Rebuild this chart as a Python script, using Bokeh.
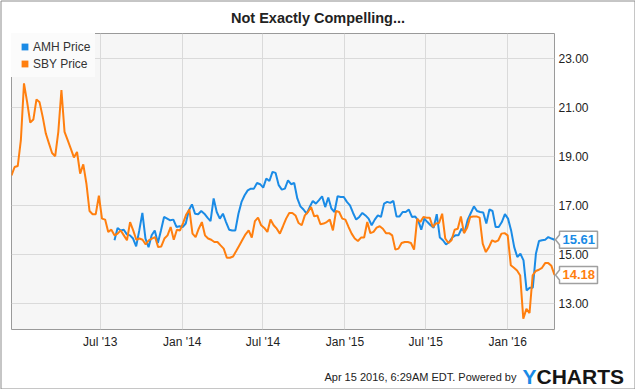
import pandas as pd
from bokeh.plotting import figure
from bokeh.models import (Range1d, FixedTicker, DatetimeTickFormatter, NumeralTickFormatter,
                          Legend, LegendItem)
from bokeh.core.properties import value
from bokeh.embed import file_html
from bokeh.resources import INLINE

# ---------------- data ----------------
title = "Not Exactly Compelling..."
series_names = ["AMH Price", "SBY Price"]
footer_text = "Apr 15 2016, 6:29AM EDT.  Powered by"
logo_parts = ["Y", "CHARTS"]

amh_start, amh_end = "2013-08-02", "2016-04-15"
sby_start, sby_end = "2012-12-14", "2016-04-15"

amh_price = [
    15.59, 16.09, 15.99, 16.02, 15.83, 15.79, 15.66, 15.34, 15.99, 16.70, 15.66, 15.31,
    15.79, 15.99, 15.48, 15.99, 16.54, 16.47, 16.40, 16.43, 16.13, 16.16, 16.13, 16.27,
    16.81, 17.05, 16.67, 16.65, 16.78, 16.67, 16.51, 16.37, 17.29, 16.74, 16.47, 16.67,
    16.33, 16.02, 15.99, 15.99, 16.67, 17.15, 17.42, 17.62, 17.69, 17.69, 17.92, 17.87,
    17.73, 18.10, 18.00, 18.37, 18.33,
    17.83, 17.65, 17.69, 18.03, 17.87, 17.92, 17.29, 16.97, 16.84, 16.67, 16.94, 17.19,
    17.08, 17.22, 17.38, 16.94, 17.33, 16.88, 16.74, 17.38, 17.35, 17.35, 17.15, 17.01,
    16.70, 16.43, 16.54, 16.70, 16.60, 16.47, 16.20, 16.43, 16.60, 16.54, 17.08, 17.15,
    17.11, 17.19, 16.56, 16.56, 16.74, 16.74, 16.84, 16.54, 16.56, 16.40, 16.02, 16.47,
    16.33, 16.20, 16.10, 16.65,
    15.70, 15.59, 15.42, 15.52, 15.70, 15.79, 15.79, 16.06, 15.93, 16.43, 16.70, 16.97,
    16.78, 16.74, 16.72, 16.27, 16.84, 16.78, 16.13, 16.13, 16.33, 16.65, 16.47, 15.99,
    15.31, 14.91, 15.04, 14.77, 13.55, 13.66, 13.66, 15.04, 15.56, 15.59, 15.61, 15.72,
    15.66, 15.61,
]

sby_price = [
    18.23, 18.57, 18.61, 19.66, 21.97, 21.22, 20.38, 20.50, 21.32, 21.20, 20.61, 19.93,
    19.53, 19.14, 19.01, 20.00, 21.70, 20.00, 19.66, 19.32, 18.96, 19.18, 18.30, 18.68,
    17.90, 16.78, 16.65, 16.65, 17.40,
    16.47, 16.43, 15.93, 16.02, 15.79, 15.86, 15.99, 15.79, 15.59, 16.33, 15.99, 15.61,
    15.66, 15.61, 15.42, 15.59, 15.66, 15.72, 15.31, 15.34, 15.66, 15.79, 16.13, 15.61,
    16.02, 15.99,
    16.30, 16.64, 16.84, 15.86, 15.72, 16.06, 16.33, 15.79, 15.66, 15.61, 15.52, 15.52,
    15.38, 15.25, 14.88, 14.88, 14.93, 15.15, 15.38, 15.61, 15.83, 15.99,
    15.70, 16.37, 16.51, 16.20, 16.09, 15.93, 16.43, 16.20, 16.06, 15.86, 16.16, 16.47,
    16.70, 16.70, 16.60, 16.29, 16.20, 16.60, 16.74, 16.94, 16.56, 16.60, 16.24, 16.27,
    16.33, 16.43, 15.99, 16.78, 16.74, 16.47, 16.43,
    16.13, 15.86, 15.66, 15.56, 15.70, 15.70, 16.33, 15.88, 15.93, 16.10, 16.16, 16.06,
    15.88, 15.88, 15.79, 15.21, 15.25, 15.48, 15.52, 15.52, 15.48, 15.21, 16.47, 16.33,
    16.54, 16.51, 16.51,
    16.13, 16.27, 16.29, 16.67, 15.66, 15.48, 15.59, 16.02, 16.06, 16.56, 15.88, 16.10,
    16.54, 16.56, 16.56, 16.51, 15.45, 15.11, 15.31, 15.59, 15.52, 15.59, 15.86, 15.88,
    15.79, 14.57, 14.47, 14.36, 14.16, 12.40, 12.80, 12.63, 14.16, 14.34, 14.39, 14.47,
    14.66, 14.66, 14.55, 14.18,
]

x_ticks = ["2013-07-01", "2014-01-01", "2014-07-01", "2015-01-01", "2015-07-01", "2016-01-01"]
y_ticks = [13, 15, 17, 19, 21, 23]
last_labels = ["15.61", "14.18"]

# ---------------- styling ----------------
BLUE = "#1a8be6"
ORANGE = "#ff7f0f"
FONT = "Liberation Sans"
W, H = 635, 389
BL, BR, BT, BB = 11, 81, 33, 60
FW, FH = W - BL - BR, H - BT - BB
Y_LO, Y_HI = 11.96, 24.0

amh_dates = pd.date_range(amh_start, amh_end, periods=len(amh_price))
sby_dates = pd.date_range(sby_start, sby_end, periods=len(sby_price))
X0 = pd.Timestamp(sby_start).value / 1e6
X1 = pd.Timestamp(sby_end).value / 1e6
MPP = (X1 - X0) / FW          # ms per screen pixel
PPU = FH / (Y_HI - Y_LO)      # screen pixels per price unit


def sx(px):  # frame-relative pixel -> data x
    return X0 + px * MPP


def sy(px):  # frame-relative pixel (from bottom) -> data y
    return Y_LO + px / PPU


p = figure(width=W, height=H, x_axis_type="datetime", y_axis_location="right",
           output_backend="svg", toolbar_location=None,
           x_range=Range1d(pd.Timestamp(sby_start), pd.Timestamp(sby_end)),
           y_range=Range1d(Y_LO, Y_HI),
           min_border_left=BL, min_border_right=BR, min_border_top=BT, min_border_bottom=BB)
p.background_fill_color = "#f6f6f6"
p.border_fill_color = "white"
p.outline_line_color = "#9a9a9a"
p.outline_line_width = 1

tick_ms = [pd.Timestamp(t).value / 1e6 for t in x_ticks]
fmt = "%b '%y"
p.xaxis.ticker = FixedTicker(ticks=tick_ms)
p.xaxis.formatter = DatetimeTickFormatter(microseconds=fmt, milliseconds=fmt, seconds=fmt,
                                          minsec=fmt, minutes=fmt, hourmin=fmt, hours=fmt,
                                          days=fmt, months=fmt, years=fmt)
p.xgrid.ticker = FixedTicker(ticks=tick_ms)
p.yaxis.ticker = FixedTicker(ticks=y_ticks)
p.ygrid.ticker = FixedTicker(ticks=y_ticks)
p.yaxis.formatter = NumeralTickFormatter(format="0.00")
for ax in (p.xaxis[0], p.yaxis[0]):
    ax.axis_line_color = None
    ax.major_tick_line_color = None
    ax.minor_tick_line_color = None
    ax.major_tick_out = 0
    ax.minor_tick_out = 0
    ax.major_label_text_font = FONT
    ax.major_label_text_font_size = "12px"
    ax.major_label_text_color = "#222222"
    ax.major_label_standoff = 5
p.yaxis.major_label_standoff = 4
p.xgrid.grid_line_color = "#dadada"
p.ygrid.grid_line_color = "#dadada"

p.line(amh_dates, amh_price, line_color=BLUE, line_width=2)
p.line(sby_dates, sby_price, line_color=ORANGE, line_width=2)

# legend with square swatches (zero-size markers, shown only in the legend)
sw_amh = p.scatter(amh_dates, amh_price, marker="square", size=0, fill_color=BLUE,
                   line_alpha=0)
sw_sby = p.scatter(sby_dates, sby_price, marker="square", size=0, fill_color=ORANGE,
                   line_alpha=0)
legend = Legend(items=[LegendItem(label=series_names[0], renderers=[sw_amh]),
                       LegendItem(label=series_names[1], renderers=[sw_sby])],
                location="top_left", margin=0, padding=5, spacing=0,
                glyph_width=17, glyph_height=17, label_height=17, label_standoff=0,
                border_line_alpha=0, background_fill_color="#fbfbfb", background_fill_alpha=1,
                label_text_font=FONT, label_text_font_size="12px", label_text_color="#333333")
p.add_layout(legend)

# title, footer and last-value callouts drawn as overlay glyphs (outside the frame)
txt_common = dict(text_font=value(FONT), level="overlay", text_baseline="middle")
p.text(x=[sx(W / 2 - BL)], y=[sy(FH + 16)], text=[title], text_font_size="14.5px",
       text_font_style="bold", text_color="#222222", text_align="center", **txt_common)
p.text(x=[sx(508)], y=[sy(-47)], text=[footer_text], text_font_size="11px",
       text_color="#222222", text_align="right", **txt_common)
p.text(x=[sx(511)], y=[sy(-47)], text=[logo_parts[0]], text_font_size="21px",
       text_font_style="bold", text_color=BLUE, text_align="left", **txt_common)
p.text(x=[sx(525)], y=[sy(-47)], text=[logo_parts[1]], text_font_size="21px",
       text_font_style="bold", text_color="#151515", text_align="left", **txt_common)

for vals, txt, col in ((amh_price, last_labels[0], BLUE), (sby_price, last_labels[1], ORANGE)):
    v = vals[-1]
    xs = [sx(FW + d) for d in (1, 5, 5, 43, 43, 5, 5)]
    ys = [v + d / PPU for d in (0, 5, 8.5, 8.5, -8.5, -8.5, -5)]
    p.patch(xs, ys, fill_color="white", line_color="#a0a0a0", line_width=1.5, level="overlay")
    p.text(x=[sx(FW + 8)], y=[v], text=[txt], text_font_size="13px", text_font_style="bold",
           text_color=col, text_align="left", **txt_common)

# outer frame of the whole chart image
p.quad(left=[sx(-BL + 0.5)], right=[sx(W - BL - 0.5)], bottom=[sy(-BB + 0.5)],
       top=[sy(FH + BT - 0.5)], fill_alpha=0, line_color="#8c8c8c", line_width=1,
       level="overlay")

open("out.html", "w").write(file_html(p, INLINE))
